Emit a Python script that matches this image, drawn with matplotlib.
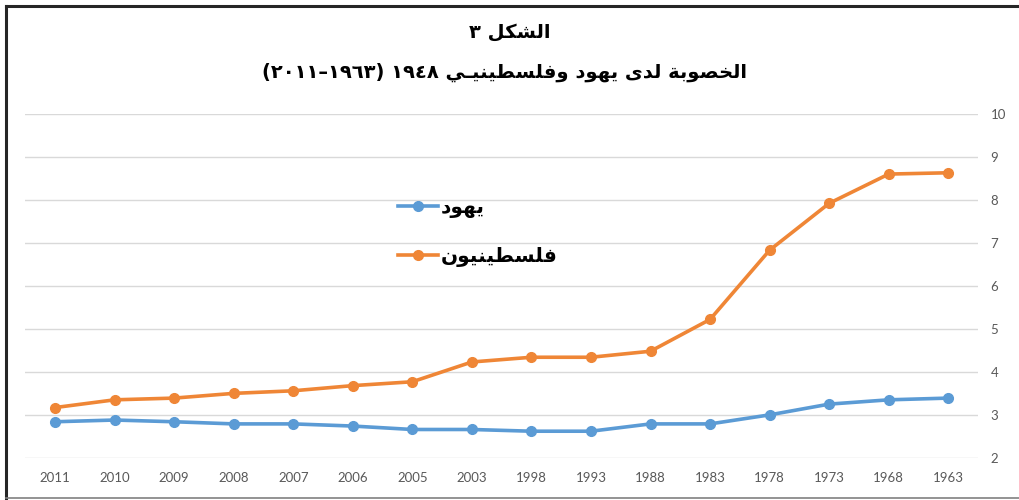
import re
import matplotlib
matplotlib.use("Agg")
import matplotlib.pyplot as plt
from matplotlib.lines import Line2D

# data (x axis runs from newest to oldest)
years = ['2011', '2010', '2009', '2008', '2007', '2006', '2005', '2003',
         '1998', '1993', '1988', '1983', '1978', '1973', '1968', '1963']
jews = [2.85, 2.89, 2.85, 2.80, 2.80, 2.75, 2.67, 2.67,
        2.63, 2.63, 2.80, 2.80, 3.01, 3.26, 3.36, 3.40]
palestinians = [3.18, 3.36, 3.40, 3.51, 3.57, 3.69, 3.78, 4.24,
                4.35, 4.35, 4.49, 5.23, 6.84, 7.93, 8.61, 8.64]

title1 = 'الشكل ٣'
title2 = 'الخصوبة لدى يهود وفلسطينيـي ١٩٤٨ (١٩٦٣–٢٠١١)'
label_jews = 'يهود'
label_pal = 'فلسطينيون'

# arabic presentation forms: isolated, final, initial, medial
FORMS = {
    'ا': ('\uFE8D', '\uFE8E', None, None),
    'ب': ('\uFE8F', '\uFE90', '\uFE91', '\uFE92'),
    'ة': ('\uFE93', '\uFE94', None, None),
    'خ': ('\uFEA5', '\uFEA6', '\uFEA7', '\uFEA8'),
    'د': ('\uFEA9', '\uFEAA', None, None),
    'س': ('\uFEB1', '\uFEB2', '\uFEB3', '\uFEB4'),
    'ش': ('\uFEB5', '\uFEB6', '\uFEB7', '\uFEB8'),
    'ص': ('\uFEB9', '\uFEBA', '\uFEBB', '\uFEBC'),
    'ط': ('\uFEC1', '\uFEC2', '\uFEC3', '\uFEC4'),
    'ف': ('\uFED1', '\uFED2', '\uFED3', '\uFED4'),
    'ك': ('\uFED9', '\uFEDA', '\uFEDB', '\uFEDC'),
    'ل': ('\uFEDD', '\uFEDE', '\uFEDF', '\uFEE0'),
    'ن': ('\uFEE5', '\uFEE6', '\uFEE7', '\uFEE8'),
    'ه': ('\uFEE9', '\uFEEA', '\uFEEB', '\uFEEC'),
    'و': ('\uFEED', '\uFEEE', None, None),
    'ى': ('\uFEEF', '\uFEF0', None, None),
    'ي': ('\uFEF1', '\uFEF2', '\uFEF3', '\uFEF4'),
    '\u0640': ('\u0640', '\u0640', '\u0640', '\u0640'),
}


def ar(s):
    out = []
    for i, c in enumerate(s):
        if c not in FORMS:
            out.append(c)
            continue
        prev = s[i - 1] if i > 0 else ''
        nxt = s[i + 1] if i + 1 < len(s) else ''
        jp = prev in FORMS and FORMS[prev][2] is not None
        jn = FORMS[c][2] is not None and nxt in FORMS
        iso, fin, ini, med = FORMS[c]
        out.append(med if jp and jn else fin if jp else ini if jn else iso)
    tokens = re.findall(r'[0-9\u0660-\u0669]+|.', ''.join(out))[::-1]
    swap = {'(': ')', ')': '('}
    return ''.join(swap.get(t, t) for t in tokens)


blue = '#5b9bd5'
orange = '#ef8636'

fig = plt.figure(figsize=(10.19, 5.0), dpi=100)
ax = fig.add_axes([0.0248, 0.0834, 0.935, 0.688])

x = range(len(years))
ax.plot(x, jews, color=blue, lw=2.6, marker='o', ms=7, label=ar(label_jews))
ax.plot(x, palestinians, color=orange, lw=2.6, marker='o', ms=7,
        label=ar(label_pal))

ax.set_xlim(-0.5, len(years) - 0.5)
ax.set_ylim(2, 10)
ax.set_yticks(range(2, 11))
ax.set_xticks(list(x))
ax.set_xticklabels(years)
ax.yaxis.tick_right()
ax.tick_params(axis='both', length=0, labelsize=9.5, labelcolor='#595959')
ax.tick_params(axis='x', pad=10)
ax.tick_params(axis='y', pad=9)
for lab in ax.get_xticklabels() + ax.get_yticklabels():
    lab.set_family('Lato')
ax.grid(axis='y', color='#d9d9d9', lw=1)
ax.set_axisbelow(True)
for s in ax.spines.values():
    s.set_visible(False)

leg = ax.legend(loc='upper left', bbox_to_anchor=(0.372, 0.81), frameon=False,
                handlelength=2.0, labelspacing=1.45, handletextpad=0.15,
                prop={'family': 'DejaVu Sans', 'weight': 'bold', 'size': 14.5})

fig.text(0.5, 0.935, ar(title1), ha='center', va='center', fontsize=14,
         fontweight='bold', family='DejaVu Sans')
fig.text(0.495, 0.855, ar(title2), ha='center', va='center', fontsize=14,
         fontweight='bold', family='DejaVu Sans')

# outer frame
fig.add_artist(Line2D([0.0059, 1.0], [0.988, 0.988], color='#262626', lw=2.2))
fig.add_artist(Line2D([0.0059, 0.0059], [0.004, 0.988], color='#262626', lw=2.2))
fig.add_artist(Line2D([0.0059, 1.0], [0.005, 0.005], color='#808080', lw=1.2))

fig.savefig('out.png', dpi=100)
